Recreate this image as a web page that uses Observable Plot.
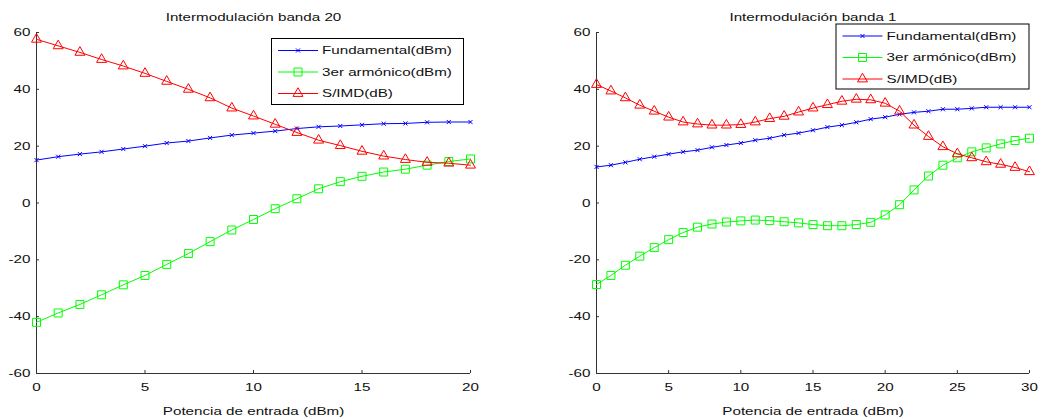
<!DOCTYPE html>
<html>
<head>
<meta charset="utf-8">
<script src="https://cdn.jsdelivr.net/npm/d3@7"></script>
<script src="https://cdn.jsdelivr.net/npm/@observablehq/plot@0.6"></script>
<style>
  html, body { margin: 0; padding: 0; background: #fff; }
  #chart { position: relative; width: 1041px; height: 419px; overflow: hidden; background: #fff; }
  #chart svg { position: absolute; top: 0; }
</style>
</head>
<body>
<div id="chart"></div>
<script>
// ---- data ----
const seriesNames = ["Fundamental(dBm)", "3er armónico(dBm)", "S/IMD(dB)"];
const seriesColors = ["#0000ff", "#00ff00", "#ff0000"];
const seriesSymbols = ["times", "square", "triangle"];
const seriesRadius = [2, 4.5, 3.7];
const yTicks = [-60, -40, -20, 0, 20, 40, 60];
const xLabel = "Potencia de entrada (dBm)";

// Banda 20
const b20Title = "Intermodulación banda 20";
const b20XTicks = [0, 5, 10, 15, 20];
const b20Input = [0, 1, 2, 3, 4, 5, 6, 7, 8, 9, 10, 11, 12, 13, 14, 15, 16, 17, 18, 19, 20];
const b20Fund = [15.1, 16.3, 17.2, 18, 19, 20, 21.1, 21.8, 22.9, 23.9, 24.6, 25.3, 26.2, 26.8, 27.1, 27.5, 27.9, 28, 28.4, 28.5, 28.5];
const b20Harm = [-42, -38.7, -35.7, -32.3, -28.8, -25.5, -21.6, -17.8, -13.6, -9.5, -5.8, -2, 1.5, 5, 7.5, 9.4, 10.9, 11.9, 13.3, 14.6, 15.5];
const b20Simd = [57.6, 55.3, 53, 50.5, 48.2, 45.6, 42.8, 40, 37, 33.4, 30.6, 27.7, 24.8, 22.1, 20.2, 18.2, 16.5, 15.3, 14.3, 14, 13.3];

// Banda 1
const b1Title = "Intermodulación banda 1";
const b1XTicks = [0, 5, 10, 15, 20, 25, 30];
const b1Input = [0, 1, 2, 3, 4, 5, 6, 7, 8, 9, 10, 11, 12, 13, 14, 15, 16, 17, 18, 19, 20, 21, 22, 23, 24, 25, 26, 27, 28, 29, 30];
const b1Fund = [12.7, 13.3, 14.3, 15.4, 16.3, 17.2, 18, 18.6, 19.6, 20.4, 21.1, 22.1, 22.8, 23.9, 24.6, 25.6, 26.7, 27.4, 28.4, 29.5, 30.2, 31.2, 31.9, 32.3, 33, 33, 33.3, 33.7, 33.7, 33.7, 33.7];
const b1Harm = [-28.7, -25.5, -21.9, -18.7, -15.7, -12.9, -10.4, -8.5, -7.4, -6.7, -6.3, -6, -6.2, -6.6, -7, -7.6, -8, -8, -7.6, -6.8, -4.2, -0.6, 4.6, 9.5, 13.3, 15.9, 18, 19.4, 20.8, 22, 22.8];
const b1Simd = [41.7, 39.4, 37, 34.4, 32.3, 30.2, 28.5, 27.8, 27.4, 27.4, 27.6, 28.5, 29.7, 30.5, 32, 33.4, 34.6, 35.8, 36.5, 36.3, 35.1, 32.3, 27.4, 23.4, 19.8, 17.3, 15.9, 14.5, 13.6, 12.5, 11];

// ---- layout ----
const H = 419;
const MT = 32, MB = 46;
const AXIS = "#333";
const FONT = "'Liberation Sans', Arial, sans-serif";
const STRETCH = 1.38;   // wide lettering

function panel({title, input, series, xTicks, width, marginLeft, marginRight}) {
  const frameW = width - marginLeft - marginRight;
  const frameH = H - MT - MB;
  const xDomain = [xTicks[0], xTicks[xTicks.length - 1]];
  const marks = [
    Plot.ruleX([xDomain[0]], {stroke: AXIS}),
    Plot.ruleY([yTicks[0]], {stroke: AXIS}),
    Plot.tickX(xTicks, {x: d => d, insetTop: frameH - 3, stroke: AXIS}),
    Plot.tickY(yTicks, {y: d => d, insetRight: frameW - 3, stroke: AXIS}),
    Plot.axisX({ticks: xTicks, tickSize: 0, tickPadding: 10, tickFormat: d => String(d), label: null, fill: "#111"}),
    Plot.axisY({ticks: yTicks, tickSize: 0, tickPadding: 6, tickFormat: d => String(d), label: null, fill: "#111"})
  ];
  series.forEach((vals, k) => {
    const rows = vals.map((v, i) => ({x: input[i], y: v}));
    marks.push(Plot.line(rows, {x: "x", y: "y", stroke: seriesColors[k], strokeWidth: 1}));
    marks.push(Plot.dot(rows, {x: "x", y: "y", stroke: seriesColors[k], fill: "none", strokeWidth: 1,
                                symbol: seriesSymbols[k], r: seriesRadius[k]}));
  });
  marks.push(Plot.text([title], {frameAnchor: "top", dy: -12, lineAnchor: "bottom", fill: "#111"}));
  marks.push(Plot.text([xLabel], {frameAnchor: "bottom", dy: 34, lineAnchor: "top", fill: "#111"}));
  return Plot.plot({
    width, height: H,
    marginLeft, marginRight, marginTop: MT, marginBottom: MB,
    x: {domain: xDomain},
    y: {domain: [yTicks[0], yTicks[yTicks.length - 1]]},
    style: {fontFamily: FONT, fontSize: "11px", background: "transparent", overflow: "visible"},
    marks
  });
}

function addLegend(svg, left, top, w, h) {
  const g = d3.select(svg).append("g")
    .attr("font-family", FONT).attr("font-size", 11).attr("text-anchor", "start");
  g.append("rect").attr("x", left + 0.5).attr("y", top + 0.5).attr("width", w).attr("height", h)
    .attr("fill", "#fff").attr("stroke", "#000").attr("stroke-width", 1);
  const symbolMap = {times: d3.symbolTimes, square: d3.symbolSquare, triangle: d3.symbolTriangle};
  seriesNames.forEach((name, k) => {
    const cy = top + 12.5 + 21.5 * k;
    g.append("line").attr("x1", left + 7).attr("x2", left + 47).attr("y1", cy).attr("y2", cy)
      .attr("stroke", seriesColors[k]).attr("stroke-width", 1);
    const r = seriesRadius[k];
    g.append("path").attr("transform", `translate(${left + 27},${cy})`)
      .attr("d", d3.symbol(symbolMap[seriesSymbols[k]], r * r * Math.PI)())
      .attr("fill", "none").attr("stroke", seriesColors[k]).attr("stroke-width", 1);
    g.append("text").attr("x", left + 51).attr("y", cy).attr("dy", "0.36em")
      .attr("text-anchor", "start").attr("fill", "#111").text(name);
  });
}

function widen(svg) {
  d3.select(svg).selectAll("text").each(function () {
    const L = this.getComputedTextLength();
    if (L > 0) {
      this.setAttribute("textLength", (L * STRETCH).toFixed(1));
      this.setAttribute("lengthAdjust", "spacingAndGlyphs");
    }
  });
}

const chart = document.getElementById("chart");

const left = panel({title: b20Title, input: b20Input, series: [b20Fund, b20Harm, b20Simd],
                    xTicks: b20XTicks, width: 520, marginLeft: 36, marginRight: 50});
left.style.left = "0px";
chart.appendChild(left);
addLegend(left, 271, 38, 192, 66);

const right = panel({title: b1Title, input: b1Input, series: [b1Fund, b1Harm, b1Simd],
                     xTicks: b1XTicks, width: 521, marginLeft: 76, marginRight: 12});
right.style.left = "520px";
chart.appendChild(right);
addLegend(right, 315.5, 23.5, 193, 65);

widen(left);
widen(right);
</script>
</body>
</html>
